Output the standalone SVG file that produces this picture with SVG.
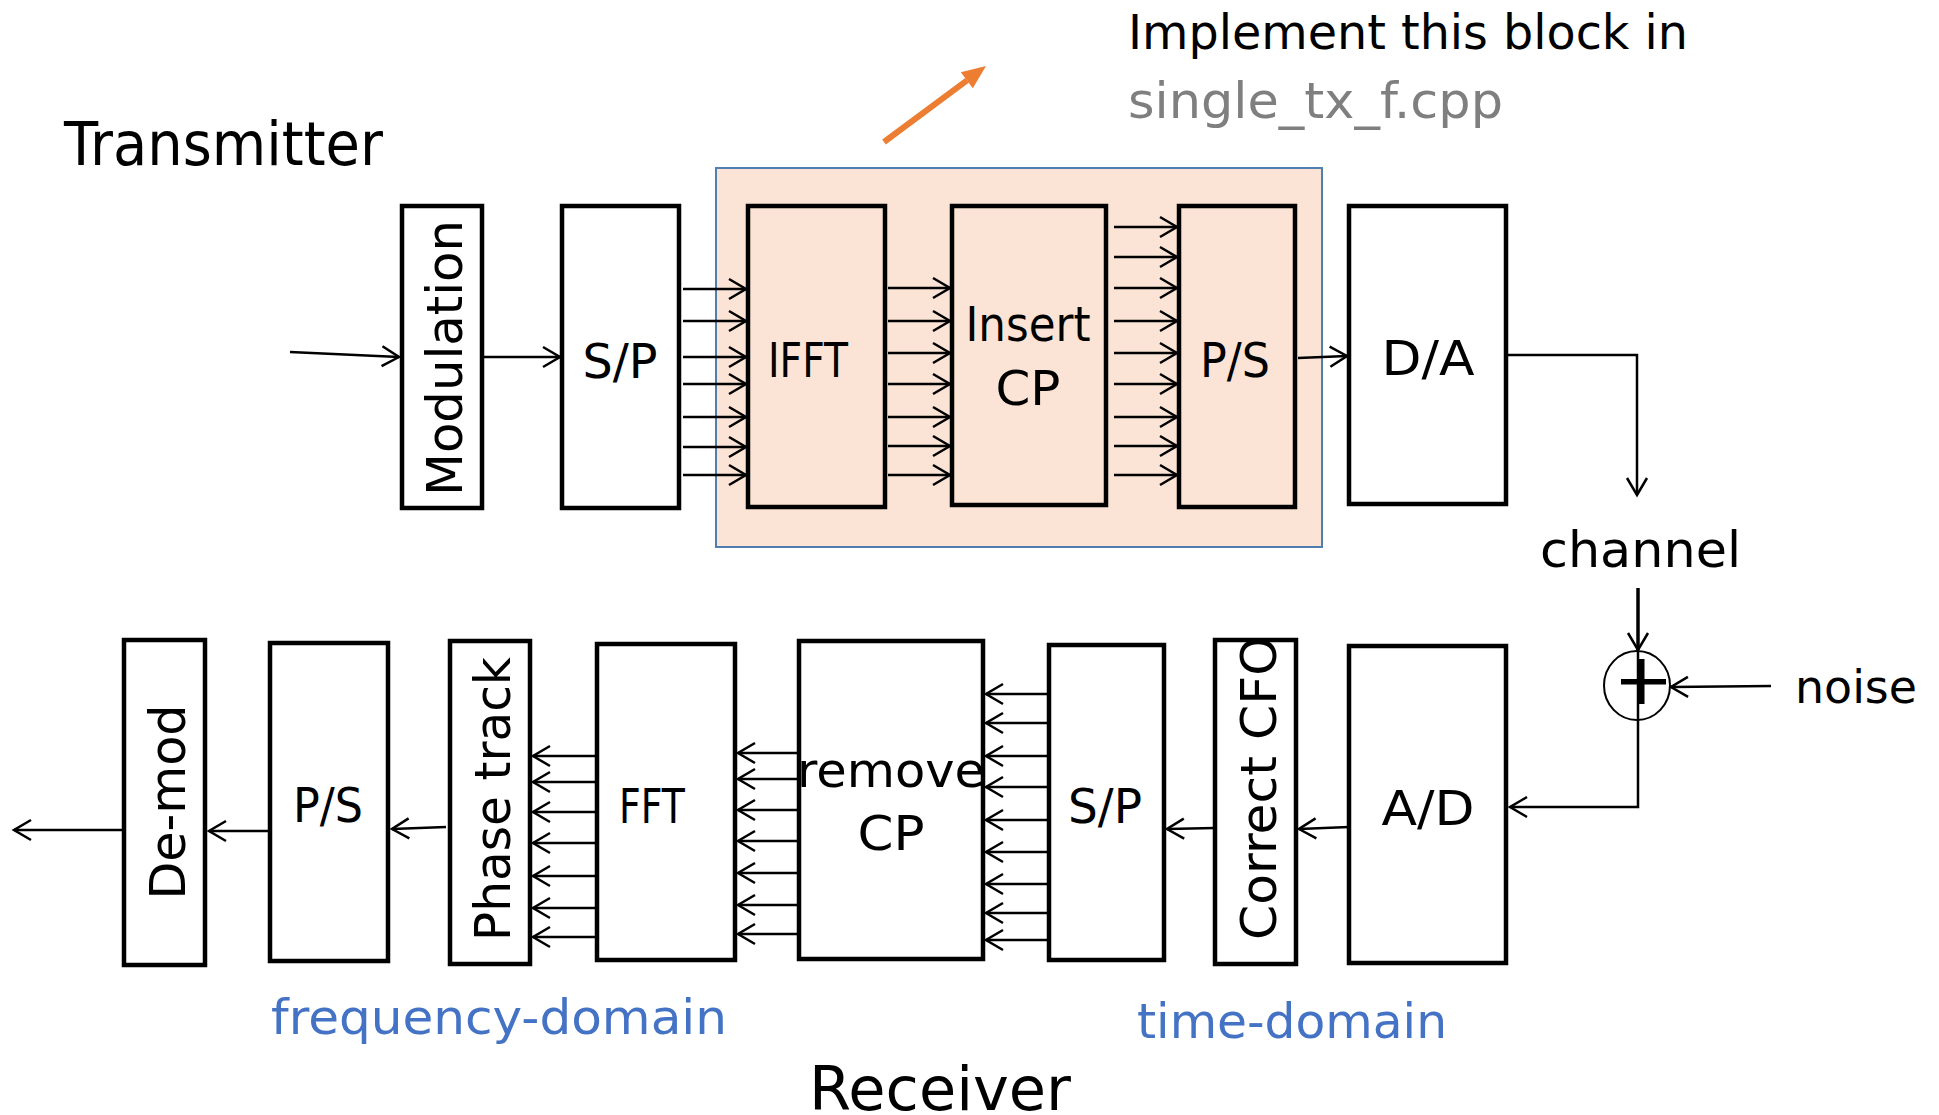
<svg xmlns="http://www.w3.org/2000/svg" width="1939" height="1115" viewBox="0 0 1939 1115">
  <style>
    .box { fill: none; stroke: #000; stroke-width: 4.5; }
    .lbl { font-family: "DejaVu Sans", "Liberation Sans", sans-serif; font-size: 48px; fill: #000; text-anchor: middle; }
    .rot { font-size: 50px; }
    .title { font-family: "DejaVu Sans", "Liberation Sans", sans-serif; font-size: 60px; fill: #000; }
    .note { font-family: "DejaVu Sans", "Liberation Sans", sans-serif; fill: #000; }
    .domain { font-family: "DejaVu Sans", "Liberation Sans", sans-serif; font-size: 48px; fill: #4472C4; }
    .wire { fill: none; stroke: #000; stroke-width: 2.5; marker-end: url(#ah); }
    .plain { fill: none; stroke: #000; stroke-width: 2.5; }
  </style>
  <defs>
    <marker id="ah" viewBox="-20 -12 24 24" refX="0" refY="0" markerWidth="24" markerHeight="24" orient="auto" markerUnits="userSpaceOnUse" overflow="visible">
      <path d="M-17,-10 L0,0 L-17,10" fill="none" stroke="#000" stroke-width="2.5"/>
    </marker>
  </defs>

  <rect width="1939" height="1115" fill="#fff"/>

  <!-- area to be implemented -->
  <rect id="impl-area" x="716" y="168" width="606" height="379" fill="#FBE4D5" stroke="#4F7FB0" stroke-width="2"/>

  <!-- headings and notes -->
  <text class="title" x="64" y="165" textLength="319" lengthAdjust="spacingAndGlyphs">Transmitter</text>
  <text class="title" x="809" y="1110" textLength="262" lengthAdjust="spacingAndGlyphs">Receiver</text>
  <text class="note" x="1128" y="49" font-size="48" textLength="560" lengthAdjust="spacingAndGlyphs">Implement this block in</text>
  <text class="note" x="1128" y="118" font-size="50" fill="#7F7F7F" style="fill:#7F7F7F" textLength="375" lengthAdjust="spacingAndGlyphs">single_tx_f.cpp</text>
  <text class="note" x="1540" y="567" font-size="50" textLength="201" lengthAdjust="spacingAndGlyphs">channel</text>
  <text class="note" x="1795" y="703" font-size="47" textLength="122" lengthAdjust="spacingAndGlyphs">noise</text>
  <text class="domain" x="271" y="1034" textLength="456" lengthAdjust="spacingAndGlyphs">frequency-domain</text>
  <text class="domain" x="1137" y="1038" textLength="310" lengthAdjust="spacingAndGlyphs">time-domain</text>

  <!-- pointer to the block -->
  <g id="pointer">
    <line x1="884" y1="142" x2="967" y2="80.3" stroke="#ED7D31" stroke-width="6"/>
    <polygon points="986,66 972.8,88.3 960.8,72.3" fill="#ED7D31"/>
  </g>

  <!-- transmitter chain -->
  <g id="tx-modulation">
    <rect class="box" x="402" y="206" width="80" height="302"/>
    <text class="lbl rot" x="462" y="358" transform="rotate(-90 462 358)" textLength="276" lengthAdjust="spacingAndGlyphs">Modulation</text>
  </g>
  <g id="tx-sp">
    <rect class="box" x="562" y="206" width="117" height="302"/>
    <text class="lbl" x="620" y="378" textLength="75" lengthAdjust="spacingAndGlyphs">S/P</text>
  </g>
  <g id="tx-ifft">
    <rect class="box" x="748" y="206" width="137" height="301"/>
    <text class="lbl" x="808" y="377" textLength="80" lengthAdjust="spacingAndGlyphs">IFFT</text>
  </g>
  <g id="tx-insert-cp">
    <rect class="box" x="952" y="206" width="154" height="299"/>
    <text class="lbl" x="1028" y="341" textLength="125" lengthAdjust="spacingAndGlyphs">Insert</text>
    <text class="lbl" x="1028" y="405" textLength="65" lengthAdjust="spacingAndGlyphs">CP</text>
  </g>
  <g id="tx-ps">
    <rect class="box" x="1179" y="206" width="116" height="301"/>
    <text class="lbl" x="1235" y="377" textLength="70" lengthAdjust="spacingAndGlyphs">P/S</text>
  </g>
  <g id="tx-da">
    <rect class="box" x="1349" y="206" width="157" height="298"/>
    <text class="lbl" x="1428" y="375" textLength="93" lengthAdjust="spacingAndGlyphs">D/A</text>
  </g>

  <!-- adder for channel noise -->
  <g id="adder">
    <ellipse cx="1637" cy="685.5" rx="33" ry="34.5" fill="none" stroke="#000" stroke-width="2"/>
    <rect x="1621" y="679" width="45" height="5.5" fill="#000"/>
    <rect x="1639" y="659" width="5.5" height="45" fill="#000"/>
  </g>

  <!-- receiver chain -->
  <g id="rx-demod">
    <rect class="box" x="124" y="640" width="81" height="325"/>
    <text class="lbl rot" x="185" y="802" transform="rotate(-90 185 802)" textLength="195" lengthAdjust="spacingAndGlyphs">De-mod</text>
  </g>
  <g id="rx-ps">
    <rect class="box" x="270" y="643" width="118" height="318"/>
    <text class="lbl" x="328" y="822" textLength="70" lengthAdjust="spacingAndGlyphs">P/S</text>
  </g>
  <g id="rx-phase-track">
    <rect class="box" x="450" y="641" width="80" height="323"/>
    <text class="lbl rot" x="510" y="799" transform="rotate(-90 510 799)" textLength="284" lengthAdjust="spacingAndGlyphs">Phase track</text>
  </g>
  <g id="rx-fft">
    <rect class="box" x="597" y="644" width="138" height="316"/>
    <text class="lbl" x="652" y="823" textLength="66" lengthAdjust="spacingAndGlyphs">FFT</text>
  </g>
  <g id="rx-remove-cp">
    <rect class="box" x="799" y="641" width="184" height="318"/>
    <text class="lbl" x="891" y="787" font-size="50" textLength="188" lengthAdjust="spacingAndGlyphs">remove</text>
    <text class="lbl" x="891" y="850" textLength="67" lengthAdjust="spacingAndGlyphs">CP</text>
  </g>
  <g id="rx-sp">
    <rect class="box" x="1049" y="645" width="115" height="315"/>
    <text class="lbl" x="1105" y="823" textLength="74" lengthAdjust="spacingAndGlyphs">S/P</text>
  </g>
  <g id="rx-correct-cfo">
    <text class="lbl rot" x="1276" y="788" transform="rotate(-90 1276 788)" textLength="304" lengthAdjust="spacingAndGlyphs">Correct CFO</text>
    <rect class="box" x="1215" y="640" width="81" height="324"/>
  </g>
  <g id="rx-ad">
    <rect class="box" x="1349" y="646" width="157" height="317"/>
    <text class="lbl" x="1428" y="825" textLength="93" lengthAdjust="spacingAndGlyphs">A/D</text>
  </g>

  <!-- connectors -->
  <g id="connectors">
    <!-- transmitter -->
    <path class="wire" d="M290,352 L399,357"/>
    <path class="wire" d="M484,357 L560,357"/>
    <path class="wire" d="M683,289 H746"/>
    <path class="wire" d="M683,321 H746"/>
    <path class="wire" d="M683,357 H746"/>
    <path class="wire" d="M683,384 H746"/>
    <path class="wire" d="M683,417 H746"/>
    <path class="wire" d="M683,447 H746"/>
    <path class="wire" d="M683,475 H746"/>
    <path class="wire" d="M888,288 H950"/>
    <path class="wire" d="M888,321 H950"/>
    <path class="wire" d="M888,353 H950"/>
    <path class="wire" d="M888,384 H950"/>
    <path class="wire" d="M888,417 H950"/>
    <path class="wire" d="M888,446 H950"/>
    <path class="wire" d="M888,475 H950"/>
    <path class="wire" d="M1114,227 H1177"/>
    <path class="wire" d="M1114,257 H1177"/>
    <path class="wire" d="M1114,288 H1177"/>
    <path class="wire" d="M1114,321 H1177"/>
    <path class="wire" d="M1114,353 H1177"/>
    <path class="wire" d="M1114,384 H1177"/>
    <path class="wire" d="M1114,417 H1177"/>
    <path class="wire" d="M1114,446 H1177"/>
    <path class="wire" d="M1114,475 H1177"/>
    <path class="wire" d="M1298,358 L1347,356"/>
    <path class="wire" d="M1508,355 H1637 V495"/>
    <!-- channel and noise into the adder -->
    <path class="wire" d="M1638,588 V650" style="stroke-width:3.5"/>
    <path class="wire" d="M1771,686 L1671,687"/>
    <path class="wire" d="M1638,651 V807 H1510"/>
    <!-- receiver -->
    <path class="wire" d="M1349,827 L1299,829"/>
    <path class="wire" d="M1215,828 L1167,829"/>
    <path class="wire" d="M1051,694 H986"/>
    <path class="wire" d="M1051,723 H986"/>
    <path class="wire" d="M1051,756 H986"/>
    <path class="wire" d="M1051,787 H986"/>
    <path class="wire" d="M1051,820 H986"/>
    <path class="wire" d="M1051,852 H986"/>
    <path class="wire" d="M1051,884 H986"/>
    <path class="wire" d="M1051,913 H986"/>
    <path class="wire" d="M1051,940 H986"/>
    <path class="wire" d="M797,753 H738"/>
    <path class="wire" d="M797,779 H738"/>
    <path class="wire" d="M797,810 H738"/>
    <path class="wire" d="M797,841 H738"/>
    <path class="wire" d="M797,873 H738"/>
    <path class="wire" d="M797,905 H738"/>
    <path class="wire" d="M797,934 H738"/>
    <path class="wire" d="M595,756 H533"/>
    <path class="wire" d="M595,782 H533"/>
    <path class="wire" d="M595,812 H533"/>
    <path class="wire" d="M595,843 H533"/>
    <path class="wire" d="M595,876 H533"/>
    <path class="wire" d="M595,908 H533"/>
    <path class="wire" d="M595,937 H533"/>
    <path class="wire" d="M446,827 L392,829"/>
    <path class="wire" d="M268,831 H209"/>
    <path class="wire" d="M122,830 H14"/>
  </g>
</svg>
